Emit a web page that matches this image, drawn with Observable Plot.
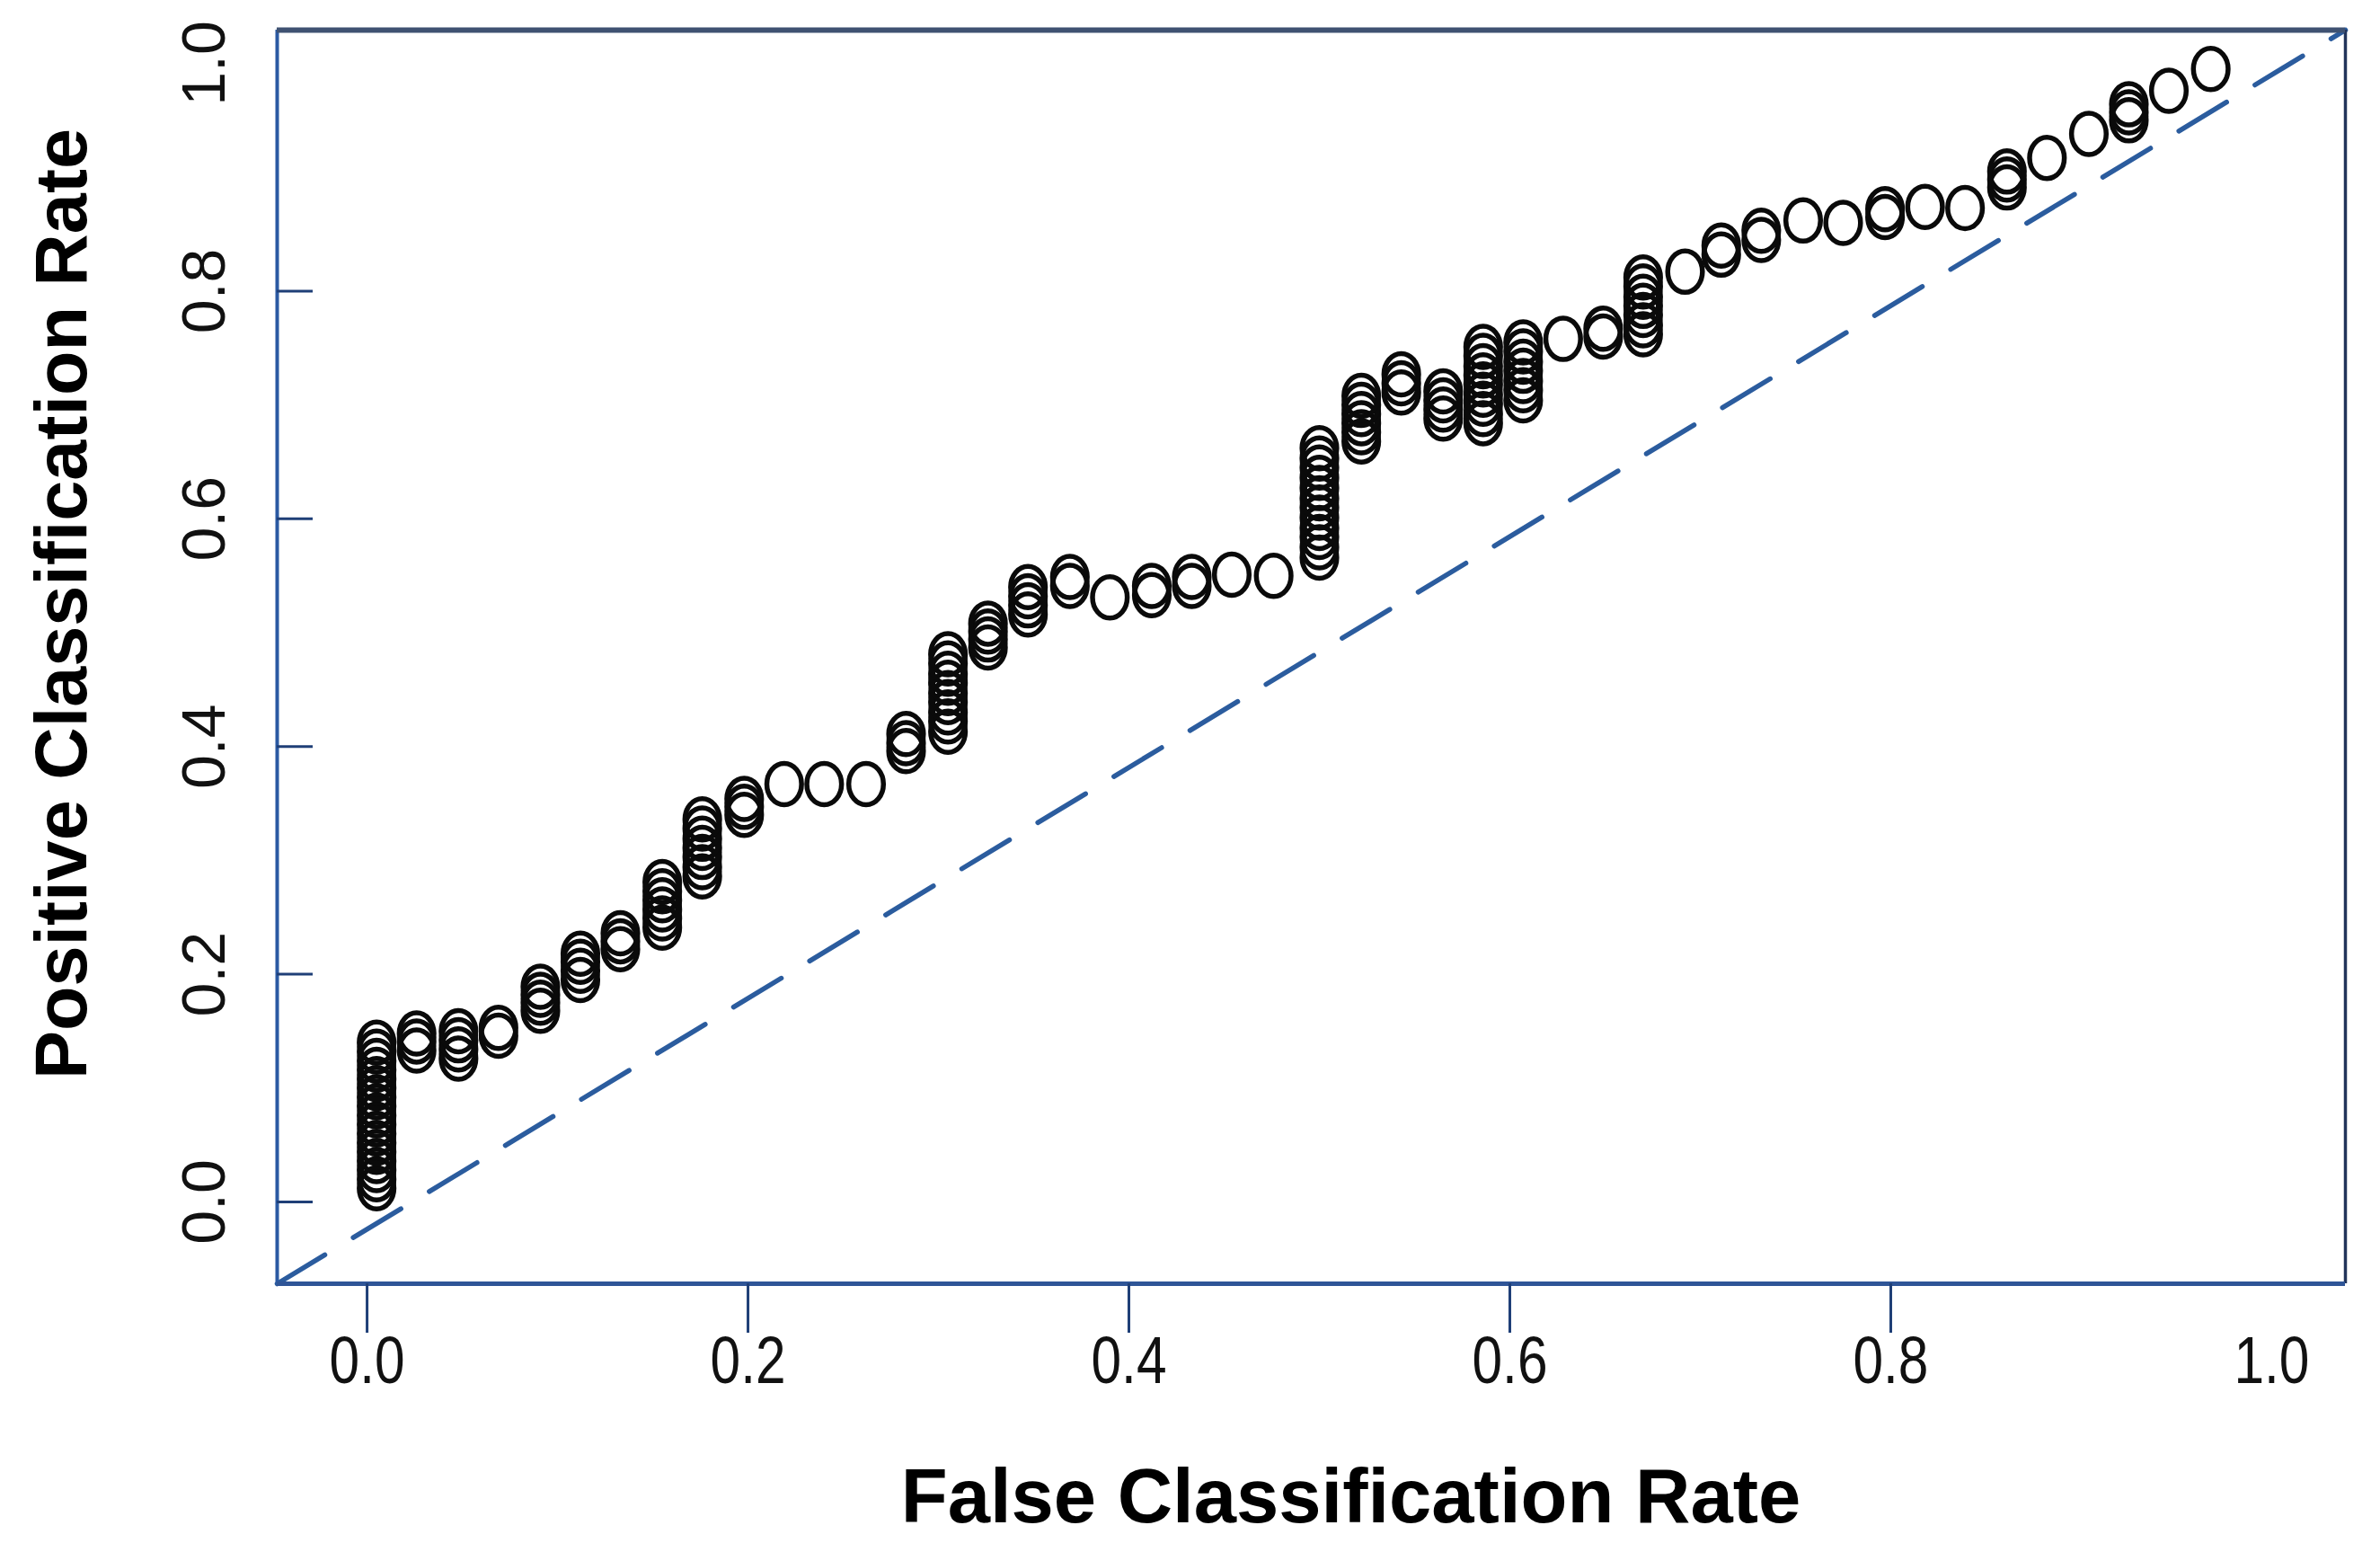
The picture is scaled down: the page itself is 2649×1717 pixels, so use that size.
<!DOCTYPE html>
<html><head><meta charset="utf-8">
<script src="https://cdn.jsdelivr.net/npm/d3@7"></script>
<script src="https://cdn.jsdelivr.net/npm/@observablehq/plot@0.6"></script>
<style>html,body{margin:0;padding:0;background:#fff;} svg{display:block;}</style>
</head><body><div id="chart"></div>
<script>
// Axis extents (data units) and tick values
const xDomain = [-0.0472, 1.0387];
const yDomain = [-0.0718, 1.0292];
const xTickMarks = [0, 0.2, 0.4, 0.6, 0.8];
const yTickMarks = [0, 0.2, 0.4, 0.6, 0.8];
const xTickLabels = [0, 0.2, 0.4, 0.6, 0.8, 1.0];
const yTickLabels = [0, 0.2, 0.4, 0.6, 0.8, 1.0];
const xTitle = "False Classification Rate";
const yTitle = "Positive Classification Rate";

// Chance diagonal, corner to corner of the plotting region
const diagonal = [[-0.0472, -0.0718], [1.0387, 1.0292]];

// ROC points: one false-rate value per column, with the stacked positive-rate values
const columnFpr = [0.005,0.026,0.048,0.069,0.091,0.112,0.133,0.155,0.176,0.198,
  0.219,0.240,0.262,0.283,0.305,0.326,0.347,0.369,0.390,0.412,
  0.433,0.454,0.476,0.500,0.522,0.543,0.565,0.586,0.607,0.628,
  0.649,0.670,0.692,0.711,0.732,0.754,0.775,0.797,0.818,0.839,
  0.861,0.882,0.904,0.925,0.946,0.968];
const columnTpr = [
  [0.012,0.020,0.028,0.036,0.044,0.052,0.060,0.068,0.076,0.084,0.092,0.100,0.108,0.116,0.124,0.132,0.140],
  [0.133,0.141,0.148],
  [0.126,0.134,0.142,0.150],
  [0.146,0.153],
  [0.168,0.175,0.182,0.189],
  [0.195,0.203,0.211,0.218],
  [0.222,0.229,0.236],
  [0.241,0.249,0.257,0.265,0.273,0.281],
  [0.286,0.294,0.303,0.311,0.319,0.328,0.336],
  [0.340,0.347,0.354],
  [0.367],
  [0.367],
  [0.367],
  [0.396,0.403,0.411],
  [0.413,0.422,0.430,0.439,0.447,0.456,0.464,0.473,0.481],
  [0.487,0.494,0.501,0.508],
  [0.516,0.524,0.532,0.540],
  [0.541,0.549],
  [0.531],
  [0.533,0.541],
  [0.541,0.549],
  [0.551],
  [0.550],
  [0.566,0.575,0.584,0.592,0.601,0.610,0.618,0.627,0.636,0.645,0.653,0.662],
  [0.668,0.676,0.684,0.692,0.700,0.708],
  [0.711,0.719,0.727],
  [0.688,0.696,0.704,0.712],
  [0.684,0.692,0.701,0.709,0.718,0.726,0.734,0.743,0.751],
  [0.704,0.713,0.721,0.730,0.738,0.747,0.755],
  [0.758],
  [0.760,0.767],
  [0.762,0.770,0.779,0.787,0.795,0.804,0.812],
  [0.817],
  [0.832,0.840],
  [0.845,0.853],
  [0.862],
  [0.860],
  [0.865,0.872],
  [0.874],
  [0.873],
  [0.891,0.898,0.905],
  [0.917],
  [0.938],
  [0.950,0.957,0.964],
  [0.976],
  [0.995]
];

const points = columnFpr.flatMap((x, i) => columnTpr[i].map(y => ({fpr: x, tpr: y})));

// Open ellipse symbol (the circles in the picture are slightly taller than wide)
const ellipse = {
  draw(ctx, size) {
    const r = Math.sqrt(size / Math.PI), ry = r, rx = r * 0.84, k = 0.5523;
    ctx.moveTo(rx, 0);
    ctx.bezierCurveTo(rx, k * ry, k * rx, ry, 0, ry);
    ctx.bezierCurveTo(-k * rx, ry, -rx, k * ry, -rx, 0);
    ctx.bezierCurveTo(-rx, -k * ry, -k * rx, -ry, 0, -ry);
    ctx.bezierCurveTo(k * rx, -ry, rx, -k * ry, rx, 0);
    ctx.closePath();
  }
};

const fmt = d => d.toFixed(1);
const blank = () => "";

const chart = Plot.plot({
  width: 2649,
  height: 1717,
  marginLeft: 308,
  marginRight: 39,
  marginTop: 33,
  marginBottom: 289,
  x: {domain: xDomain, label: null},
  y: {domain: yDomain, label: null},
  style: {background: "white", fontFamily: "'Liberation Sans', Arial, sans-serif", color: "#111"},
  marks: [
    Plot.line(diagonal, {x: d => d[0], y: d => d[1], stroke: "#2b5c9e", strokeWidth: 5.5, strokeDasharray: "62,37"}),
    Plot.dot(points, {x: "fpr", y: "tpr", r: 23, symbol: ellipse, stroke: "#0a0a0a", strokeWidth: 5.5, fill: "none"}),
    // frame
    Plot.ruleX([xDomain[0]], {stroke: "#2b5aa3", strokeWidth: 4}),
    Plot.ruleX([xDomain[1]], {stroke: "#22345a", strokeWidth: 3.5}),
    Plot.ruleY([yDomain[0]], {stroke: "#2f5597", strokeWidth: 5}),
    Plot.ruleY([yDomain[1]], {stroke: "#3f5272", strokeWidth: 6}),
    // ticks (labels drawn separately below)
    Plot.axisX(xTickMarks, {anchor: "bottom", tickSize: 55, tickFormat: blank, label: null, stroke: "#1f3f77", strokeWidth: 3}),
    Plot.axisY(yTickMarks, {anchor: "left", tickSize: 40, dx: 40, tickFormat: blank, label: null, stroke: "#1f3f77", strokeWidth: 3}),
    // tick labels
    Plot.text(xTickLabels, {x: d => d, frameAnchor: "bottom", lineAnchor: "middle", textAnchor: "middle", dy: 87, text: fmt, fontSize: 74, fill: "#111"}),
    Plot.text(yTickLabels, {y: d => d, frameAnchor: "left", lineAnchor: "middle", textAnchor: "middle", dx: -80, rotate: -90, text: fmt, fontSize: 68, fill: "#111"}),
    // axis titles
    Plot.text([xTitle], {frameAnchor: "bottom", lineAnchor: "middle", textAnchor: "middle", dx: 44, dy: 238, text: d => d, fontSize: 85, fontWeight: "bold", fill: "#000"}),
    Plot.text([yTitle], {frameAnchor: "left", lineAnchor: "middle", textAnchor: "middle", dx: -238, dy: -59, rotate: -90, text: d => d, fontSize: 81, fontWeight: "bold", fill: "#000"})
  ]
});
// x tick labels in the reference use a condensed face: squeeze the unrotated numeric labels horizontally
d3.select(chart).selectAll("text")
  .filter(function() {
    const t = this.getAttribute("transform") || "";
    return /^\d\.\d$/.test(this.textContent.trim()) && !t.includes("rotate");
  })
  .attr("textLength", 84).attr("lengthAdjust", "spacingAndGlyphs");
document.getElementById("chart").appendChild(chart);
</script>
</body></html>
